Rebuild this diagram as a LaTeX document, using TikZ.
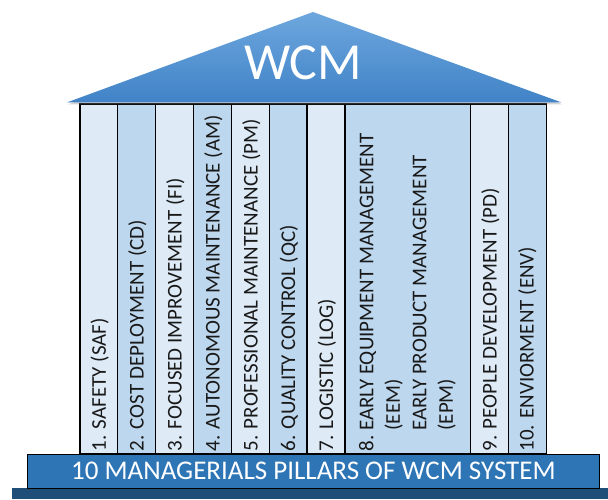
\documentclass[tikz,border=0pt]{standalone}
\usepackage{fontspec}
\setmainfont{Carlito}
\usetikzlibrary{shadows}
\definecolor{roofTop}{HTML}{6DA7DE}
\definecolor{roofBot}{HTML}{4183C7}
\definecolor{colLight}{HTML}{DEEBF7}
\definecolor{colMid}{HTML}{BDD7EE}
\definecolor{baseBlue}{HTML}{2E75B6}
\definecolor{baseNavy}{HTML}{1F4E79}
\tikzset{
  pillar/.style={draw=black, line width=1.1pt},
  pillartext/.style={rotate=90, anchor=base west, inner sep=0pt,
    text=black!90, font=\fontsize{21}{26.5}\selectfont},
}
\begin{document}
\begin{tikzpicture}[x=1pt,y=1pt]
  \useasboundingbox (0,0) rectangle (608,499);

  % ground strip
  \fill[baseNavy] (12,0) rectangle (608,11);

  % pillars
  \filldraw[pillar, fill=colLight] (80,45) rectangle (117.7,395);
  \filldraw[pillar, fill=colMid] (117.7,45) rectangle (155.3,395);
  \filldraw[pillar, fill=colLight] (155.3,45) rectangle (193.7,395);
  \filldraw[pillar, fill=colMid] (193.7,45) rectangle (231.7,395);
  \filldraw[pillar, fill=colLight] (231.7,45) rectangle (269.3,395);
  \filldraw[pillar, fill=colMid] (269.3,45) rectangle (307,395);
  \filldraw[pillar, fill=colLight] (307,45) rectangle (345,395);
  \filldraw[pillar, fill=colMid] (345,45) rectangle (470.7,395);
  \filldraw[pillar, fill=colLight] (470.7,45) rectangle (508.7,395);
  \filldraw[pillar, fill=colMid] (508.7,45) rectangle (546.7,395);

  % roof
  \path[top color=roofTop, bottom color=roofBot,
    drop shadow={shadow xshift=1pt, shadow yshift=-2pt, opacity=0.35}]
    (66.7,396.5) -- (313,487) -- (561.7,396.5) -- cycle;
  \node[font=\fontsize{52}{60}\selectfont, text=white, anchor=base] (wcm) at (303,419) {WCM};

  % base
  \filldraw[draw=black, line width=1pt, fill=baseBlue] (27.7,11) rectangle (599,45);
  \node[font=\fontsize{27}{32}\selectfont, text=white, anchor=base] (title) at (313.4,19.5)
    {10 MANAGERIALS PILLARS OF WCM SYSTEM};

  % pillar labels
  \node[pillartext] (saf) at (105.9,47.5) {1. SAFETY (SAF)};
  \node[pillartext] (cd) at (143.5,47.5) {2. COST DEPLOYMENT (CD)};
  \node[pillartext] (fi) at (181.5,47.5) {3. FOCUSED IMPROVEMENT (FI)};
  \node[pillartext] (am) at (219.7,47.5) {4. AUTONOMOUS MAINTENANCE (AM)};
  \node[pillartext] (pm) at (257.5,47.5) {5. PROFESSIONAL MAINTENANCE (PM)};
  \node[pillartext] (qc) at (295.2,47.5) {6. QUALITY CONTROL (QC)};
  \node[pillartext] (log) at (333,47.5) {7. LOGISTIC (LOG)};
  \node[pillartext] (eem) at (373.3,47.5)
    {\begin{tabular}[t]{@{}l@{\ }l@{}}
      8. & EARLY EQUIPMENT MANAGEMENT\\
         & (EEM)\\
         & EARLY PRODUCT MANAGEMENT\\
         & (EPM)
    \end{tabular}};
  \node[pillartext] (pd) at (496.7,47.5) {9. PEOPLE DEVELOPMENT (PD)};
  \node[pillartext] (env) at (533.5,47.5) {10. ENVIORMENT (ENV)};
\end{tikzpicture}
\end{document}
